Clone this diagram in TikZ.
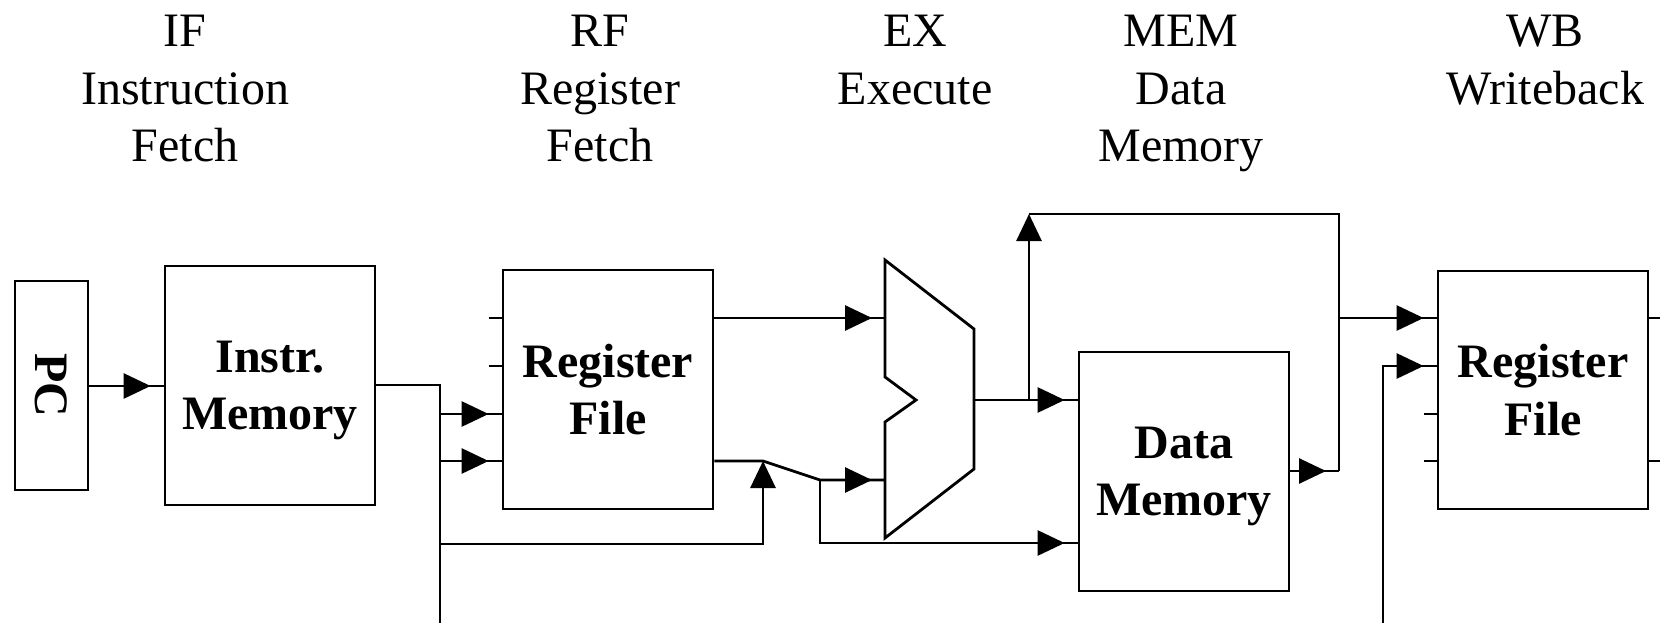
\documentclass[tikz,border=0pt]{standalone}
\usepackage{fontspec}
\setmainfont{Liberation Serif}
\usepackage{graphicx}
\usetikzlibrary{arrows.meta,decorations.markings}
\tikzset{
  wire/.style={line width=2.8pt, line join=miter},
  tipto/.style={postaction={decorate}, decoration={markings, mark=at position -13pt with {\arrow{Triangle[length=27pt,width=25pt]}}}},
  tipend/.style={-{Triangle[length=27pt,width=25pt]}},
  blk/.style={draw, line width=2.8pt, inner sep=0pt, align=center, font=\fontsize{48}{57.5}\selectfont\bfseries},
  stage/.style={anchor=north, inner sep=0pt, align=center, font=\fontsize{48}{57.5}\selectfont},
}
\newcommand{\nodep}[1]{\raisebox{0pt}[\height][0pt]{#1}}
\begin{document}
\begin{tikzpicture}[x=1pt,y=-1pt]
\useasboundingbox (0,0) rectangle (1660,623);
% stage labels
\node[stage] (if) at (185,15) {IF\\Instruction\\Fetch};
\node[stage] (rf) at (600,15) {RF\\Register\\Fetch};
\node[stage] (ex) at (915,15) {EX\\Execute};
\node[stage] (mem) at (1181,15) {MEM\\Data\\Memory};
\node[stage] (wb) at (1545,15) {WB\\Writeback};
% blocks
\node[blk, minimum width=73pt, minimum height=209pt] (pc) at (51.5,385.5) {\rotatebox{-90}{PC}};
\node[blk, minimum width=210pt, minimum height=239pt] (im) at (270,385.5) {Instr.\\\nodep{Memory}};
\node[blk, minimum width=210pt, minimum height=239pt] (rf1) at (608,389.5) {Register\\File};
\node[blk, minimum width=210pt, minimum height=239pt] (dm) at (1184,471.5) {Data\\\nodep{Memory}};
\node[blk, minimum width=210pt, minimum height=238pt] (rf2) at (1543,390) {Register\\File};
% ALU
\draw[wire] (885,260) -- (974,329) -- (974,469) -- (885,538) -- (885,422) -- (916,400) -- (885,377) -- cycle;
% helper coordinates
\coordinate (ibus) at (440,385);
\coordinate (ibusE) at (440,623);
\coordinate (alA) at (885,318);
\coordinate (alB) at (885,480);
\coordinate (alO) at (974,400);
\coordinate (fwdJ) at (763,461);
\coordinate (fwdK) at (820,480);
\coordinate (aluJ) at (1029,400);
\coordinate (topL) at (1029,214);
\coordinate (topR) at (1339,214);
\coordinate (wbJ) at (1339,471);
\coordinate (wdE) at (1383,623);
% wires
\draw[wire,tipto] (pc.east |- 0,386) -- (im.west |- 0,386);
\draw[wire] (im.east |- ibus) -- (ibus) -- (ibusE);
\draw[wire,tipto] (ibus |- 0,414) -- (rf1.west |- 0,414);
\draw[wire,tipto] (ibus |- 0,461) -- (rf1.west |- 0,461);
\draw[wire,tipend] (ibus |- 0,544) -- (fwdJ |- 0,544) -- (fwdJ);
\draw[wire] (rf1.west |- 0,318) -- ++(-13,0);
\draw[wire] (rf1.west |- 0,366) -- ++(-13,0);
\draw[wire,tipto] (rf1.east |- alA) -- (alA);
\draw[wire,tipto] (rf1.east |- fwdJ) -- (fwdJ) -- (fwdK) -- (alB);
\draw[wire,tipto] (fwdK) -- (fwdK |- 0,543) -- (dm.west |- 0,543);
\draw[wire,tipto] (alO) -- (aluJ) -- (dm.west |- aluJ);
\draw[wire,tipend] (aluJ) -- (topL);
\draw[wire,tipto] (dm.east |- wbJ) -- (wbJ);
\draw[wire] (wbJ) -- (topR) -- (topL);
\draw[wire,tipto] (wbJ |- 0,318) -- (rf2.west |- 0,318);
\draw[wire,tipto] (wdE) -- (wdE |- 0,366) -- (rf2.west |- 0,366);
\draw[wire] (rf2.west |- 0,414) -- ++(-13,0);
\draw[wire] (rf2.west |- 0,461) -- ++(-13,0);
\draw[wire] (rf2.east |- 0,318) -- ++(14,0);
\draw[wire] (rf2.east |- 0,461) -- ++(14,0);
\end{tikzpicture}
\end{document}
